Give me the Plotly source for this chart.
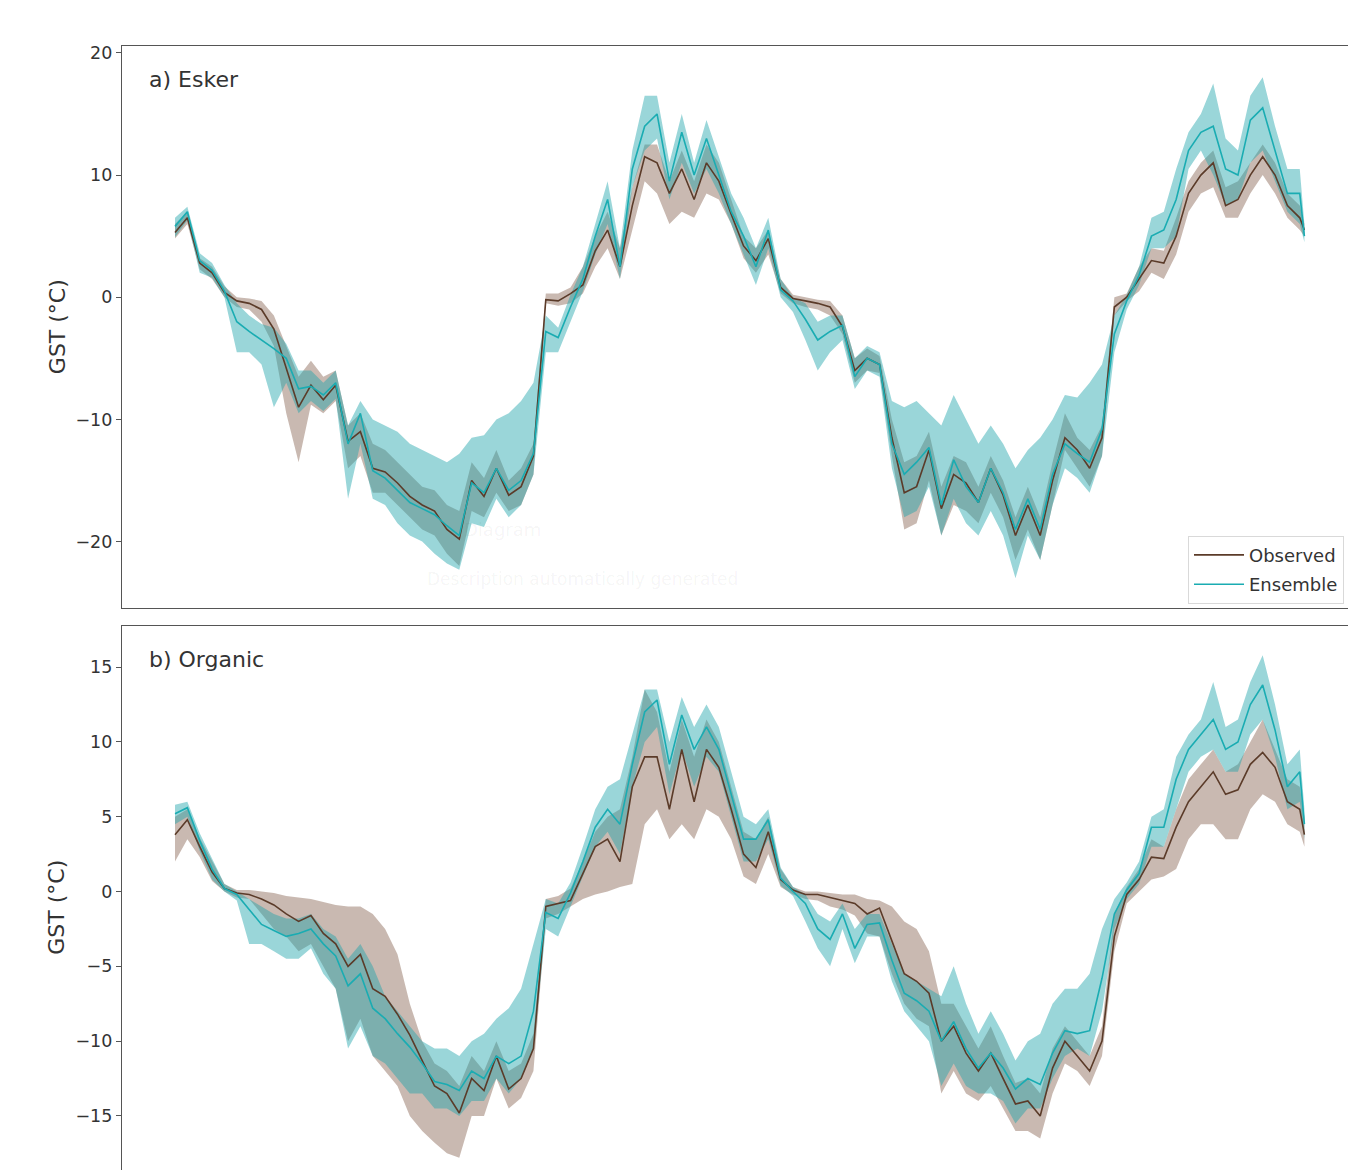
import plotly.graph_objects as go

# ---------------- data (day index, sampled every 8 days) ----------------
days = [0, 8, 16, 24, 32, 40, 48, 56, 64, 72, 80, 88, 96, 104, 112, 120, 128, 136,
        144, 152, 160, 168, 176, 184, 192, 200, 208, 216, 224, 232, 240, 248, 256,
        264, 272, 280, 288, 296, 304, 312, 320, 328, 336, 344, 352, 360, 368, 376,
        384, 392, 400, 408, 416, 424, 432, 440, 448, 456, 464, 472, 480, 488, 496,
        504, 512, 520, 528, 536, 544, 552, 560, 568, 576, 584, 592, 600, 608, 616,
        624, 632, 640, 648, 656, 664, 672, 680, 688, 696, 704, 712, 720, 728, 731]

# a) Esker
esker_obs = [5.3, 6.5, 2.8, 2.0, 0.4, -0.3, -0.5, -1.0, -2.6, -5.8, -9.0, -7.2, -8.4, -7.2,
             -11.8, -11.0, -14.0, -14.3, -15.2, -16.3, -17.0, -17.5, -19.0, -19.8, -15.0,
             -16.3, -14.0, -16.2, -15.5, -13.0, -0.2, -0.3, 0.3, 1.0, 3.8, 5.5, 2.5, 7.5,
             11.5, 11.0, 8.5, 10.5, 8.0, 11.0, 9.5, 6.8, 4.2, 3.0, 4.8, 0.8, -0.1, -0.3,
             -0.5, -0.8, -2.4, -6.0, -5.0, -5.5, -11.5, -16.0, -15.5, -12.5, -17.3, -14.5,
             -15.2, -16.8, -14.0, -16.2, -19.5, -17.0, -19.5, -15.0, -11.5, -12.5, -14.0,
             -11.5, -0.8, 0.0, 1.5, 3.0, 2.8, 5.0, 8.5, 10.0, 11.0, 7.5, 8.0, 10.0, 11.5,
             10.0, 7.5, 6.5, 5.5]
esker_obs_lo = [4.8, 6.0, 2.3, 1.5, 0.0, -0.8, -1.0, -2.0, -4.0, -9.5, -13.5, -8.8, -9.5, -8.5,
                -14.0, -13.0, -16.0, -16.0, -17.0, -18.0, -19.0, -19.5, -21.0, -22.0, -17.5,
                -18.0, -16.0, -17.5, -17.0, -14.5, -0.5, -0.7, -0.5, 0.3, 2.5, 4.0, 1.5, 5.5,
                9.5, 8.5, 6.0, 7.0, 6.5, 8.5, 8.0, 6.0, 3.2, 2.0, 3.5, 0.3, -0.5, -0.8,
                -1.0, -1.5, -3.0, -7.0, -6.0, -6.2, -13.0, -19.0, -18.5, -15.0, -19.5, -17.0,
                -17.5, -18.5, -16.0, -18.0, -21.5, -19.0, -21.5, -17.0, -12.5, -14.0, -15.5,
                -13.0, -1.5, -0.3, 0.5, 2.0, 1.5, 3.5, 7.0, 8.5, 9.0, 6.5, 6.5, 8.5, 10.0,
                8.5, 6.5, 5.5, 5.0]
esker_obs_hi = [6.0, 7.0, 3.2, 2.5, 0.9, 0.0, -0.1, -0.3, -1.5, -4.0, -6.5, -5.2, -6.5, -6.0,
                -10.5, -9.5, -12.0, -12.5, -13.5, -14.5, -15.5, -15.8, -17.0, -17.5, -13.5,
                -14.8, -12.5, -15.0, -14.0, -12.0, 0.3, 0.3, 0.8, 2.5, 5.0, 7.0, 4.0, 9.0,
                12.5, 12.5, 9.5, 12.0, 9.5, 12.5, 11.0, 8.0, 5.0, 4.0, 5.5, 1.5, 0.2, 0.0,
                -0.2, -0.3, -1.5, -5.0, -4.2, -4.8, -10.0, -13.5, -13.0, -11.0, -15.5, -13.0,
                -13.5, -15.5, -13.0, -15.0, -18.0, -15.5, -18.0, -13.5, -9.5, -11.5, -12.5,
                -10.5, 0.0, 0.3, 2.5, 4.0, 3.8, 6.5, 9.5, 11.0, 12.0, 9.0, 9.5, 11.0, 12.5,
                11.0, 8.5, 7.5, 6.0]
esker_ens = [5.8, 7.0, 3.0, 2.2, 0.5, -2.0, -2.8, -3.5, -4.2, -5.0, -7.5, -7.3, -8.0, -7.0,
             -12.0, -9.5, -14.2, -14.8, -15.8, -16.8, -17.3, -17.8, -18.7, -19.5, -15.2,
             -16.0, -14.0, -15.8, -15.0, -12.8, -2.8, -3.3, -0.8, 1.5, 5.0, 8.0, 2.5, 10.5,
             14.0, 15.0, 9.5, 13.5, 10.0, 13.0, 10.0, 7.0, 5.0, 2.5, 5.5, 0.6, -0.3, -1.8,
             -3.5, -2.8, -2.3, -6.5, -5.0, -5.5, -12.0, -14.5, -13.5, -12.3, -17.0, -13.3,
             -15.5, -16.8, -14.0, -16.0, -19.0, -16.5, -19.0, -14.5, -12.0, -12.8, -13.5,
             -10.8, -3.0, -0.3, 1.8, 5.0, 5.5, 8.0, 12.0, 13.5, 14.0, 10.5, 10.0, 14.5,
             15.5, 12.0, 8.5, 8.5, 5.0]
esker_ens_lo = [4.9, 6.3, 2.0, 1.6, 0.0, -4.5, -4.5, -5.5, -9.0, -7.0, -9.5, -8.5, -9.3, -8.3,
                -16.5, -12.0, -16.5, -17.0, -18.5, -19.5, -20.0, -21.0, -21.8, -22.3, -18.5,
                -18.8, -16.5, -18.0, -17.0, -14.5, -4.5, -4.5, -2.0, 0.5, 3.5, 6.0, 1.5, 9.0,
                12.0, 13.0, 8.0, 11.0, 8.5, 10.5, 8.5, 6.0, 3.5, 1.0, 4.0, 0.0, -1.2, -3.5,
                -6.0, -4.5, -3.5, -7.5, -6.0, -6.5, -14.0, -18.0, -17.5, -15.5, -19.5, -16.5,
                -18.5, -19.5, -17.5, -19.5, -23.0, -19.5, -21.5, -17.0, -14.0, -14.8, -16.0,
                -13.0, -4.5, -1.0, 1.0, 4.0, 4.0, 5.0, 10.5, 12.0, 10.0, 7.5, 8.0, 11.0,
                12.0, 9.5, 7.0, 6.0, 4.5]
esker_ens_hi = [6.5, 7.4, 3.6, 2.8, 1.0, -0.5, -1.5, -2.2, -2.5, -3.8, -6.0, -6.0, -7.0, -6.0,
                -10.5, -8.5, -10.0, -10.5, -11.0, -12.0, -12.5, -13.0, -13.5, -12.8, -11.5,
                -11.3, -10.0, -9.5, -8.5, -7.0, -1.5, -2.5, 0.2, 2.5, 6.0, 9.5, 4.0, 12.0,
                16.5, 16.5, 11.0, 15.0, 11.0, 14.5, 11.5, 8.5, 6.5, 4.0, 6.5, 1.5, 0.0, -0.5,
                -2.0, -1.5, -1.5, -5.0, -4.0, -4.5, -8.5, -9.0, -8.5, -9.5, -10.5, -8.0,
                -10.0, -12.0, -10.5, -12.0, -14.0, -12.5, -11.5, -10.0, -8.0, -8.2, -7.0,
                -5.5, -1.5, 0.2, 2.5, 6.5, 7.0, 10.5, 13.5, 15.0, 17.5, 13.0, 12.0, 16.5,
                18.0, 14.0, 10.5, 10.5, 6.0]

# b) Organic
organic_obs = [3.8, 4.8, 3.0, 1.3, 0.2, -0.1, -0.2, -0.5, -0.9, -1.5, -2.0, -1.6, -2.8, -3.5,
               -5.0, -4.2, -6.5, -7.0, -8.2, -9.6, -11.3, -13.0, -13.5, -14.8, -12.5, -13.3,
               -11.0, -13.2, -12.5, -10.5, -1.0, -0.8, -0.6, 1.2, 3.0, 3.5, 2.0, 7.0, 9.0,
               9.0, 5.5, 9.5, 6.0, 9.5, 8.3, 5.5, 2.5, 1.6, 4.0, 0.8, 0.1, -0.2, -0.2, -0.4,
               -0.6, -0.8, -1.5, -1.1, -3.3, -5.5, -6.0, -6.8, -10.0, -9.0, -10.8, -12.0,
               -10.8, -12.5, -14.2, -14.0, -15.0, -11.8, -10.0, -11.0, -12.0, -10.0, -3.0,
               -0.2, 0.8, 2.3, 2.2, 4.3, 6.0, 7.0, 8.0, 6.5, 6.8, 8.5, 9.3, 8.3, 6.0, 5.5, 3.8]
organic_obs_lo = [2.0, 3.5, 2.3, 0.7, 0.0, -0.4, -0.5, -1.5, -2.5, -3.0, -4.0, -3.5, -5.0, -6.5,
                  -10.0, -8.5, -11.0, -12.0, -13.0, -15.0, -16.0, -16.8, -17.5, -17.8, -15.0,
                  -15.0, -12.5, -14.5, -13.8, -12.0, -1.8, -1.5, -1.0, -0.5, -0.2, 0.0, 0.3,
                  0.5, 4.5, 5.5, 3.5, 4.5, 3.5, 5.5, 5.0, 3.5, 1.0, 0.5, 2.5, 0.3, -0.2, -0.5,
                  -0.6, -1.0, -1.2, -1.6, -2.8, -3.0, -5.5, -7.5, -8.5, -9.0, -13.5, -12.0,
                  -13.5, -14.0, -13.0, -14.5, -16.0, -16.0, -16.5, -13.5, -11.5, -12.0, -13.0,
                  -11.0, -4.0, -0.8, 0.0, 0.8, 1.0, 1.5, 3.5, 4.5, 4.5, 3.5, 3.5, 5.5, 6.5,
                  6.0, 4.5, 4.0, 3.0]
organic_obs_hi = [5.0, 5.5, 3.6, 2.0, 0.5, 0.1, 0.1, 0.0, -0.1, -0.3, -0.4, -0.5, -0.7, -0.9,
                  -1.0, -1.0, -1.5, -2.5, -4.2, -7.5, -10.0, -11.5, -12.0, -13.0, -11.0, -12.0,
                  -10.0, -12.0, -11.5, -9.5, -0.5, -0.3, 0.2, 2.0, 4.0, 5.0, 5.5, 9.0, 13.5,
                  12.0, 8.0, 11.5, 9.0, 11.5, 10.0, 7.0, 4.0, 3.5, 5.0, 1.5, 0.3, 0.0, 0.0,
                  -0.1, -0.2, -0.2, -0.5, -0.6, -1.0, -2.0, -2.5, -4.0, -7.5, -7.5, -9.0,
                  -10.5, -9.0, -11.0, -12.8, -12.5, -13.5, -10.5, -9.0, -10.0, -11.0, -9.0,
                  -1.5, 0.3, 1.5, 3.5, 3.0, 5.5, 7.5, 8.5, 9.5, 8.0, 8.5, 10.0, 11.5, 9.5,
                  7.5, 7.0, 5.0]
organic_ens = [5.2, 5.6, 3.4, 1.5, 0.2, -0.2, -1.2, -2.2, -2.6, -3.0, -2.8, -2.5, -3.5, -4.3,
               -6.3, -5.5, -7.8, -8.5, -9.5, -10.4, -11.5, -12.7, -12.9, -13.3, -12.0, -12.5,
               -11.0, -11.5, -11.0, -8.0, -1.4, -1.8, -0.1, 2.0, 4.3, 5.5, 4.5, 8.5, 12.0,
               12.8, 8.5, 11.8, 9.5, 11.0, 9.5, 6.5, 3.5, 3.5, 4.8, 0.9, 0.0, -0.8, -2.5,
               -3.2, -1.5, -3.8, -2.2, -2.1, -4.6, -6.8, -7.3, -8.0, -10.0, -8.7, -10.5,
               -11.8, -10.8, -11.8, -13.2, -12.5, -12.9, -10.8, -9.3, -9.5, -9.3, -5.8, -1.5,
               0.1, 1.2, 4.3, 4.3, 7.5, 9.5, 10.5, 11.5, 9.5, 10.0, 12.5, 13.8, 10.8, 7.0,
               8.0, 4.5]
organic_ens_lo = [4.5, 5.0, 2.7, 0.8, 0.0, -0.6, -3.5, -3.5, -4.0, -4.5, -4.5, -3.8, -5.5, -6.5,
                  -10.5, -9.0, -11.0, -11.5, -12.5, -13.5, -13.5, -14.5, -14.5, -15.0, -14.0,
                  -14.0, -12.5, -13.5, -12.5, -10.5, -2.5, -3.0, -1.0, 1.0, 3.0, 4.0, 2.5,
                  7.0, 10.0, 11.0, 6.5, 9.5, 7.0, 9.0, 8.0, 5.0, 2.0, 2.0, 3.5, 0.4, -0.3,
                  -2.0, -3.8, -5.0, -2.5, -4.8, -3.0, -3.0, -6.0, -8.0, -9.0, -10.0, -13.0,
                  -11.5, -13.0, -13.5, -13.5, -14.0, -15.5, -14.5, -14.5, -12.5, -11.0, -10.5,
                  -11.0, -8.0, -2.5, -0.5, 0.5, 3.0, 3.0, 5.5, 8.0, 9.0, 9.5, 8.0, 8.0, 10.5,
                  11.5, 9.0, 5.5, 6.0, 3.5]
organic_ens_hi = [5.8, 6.0, 3.9, 2.2, 0.5, 0.0, -0.5, -1.0, -1.5, -1.8, -1.8, -1.5, -2.5, -3.0,
                  -4.5, -3.5, -5.0, -7.0, -8.0, -9.0, -10.0, -10.5, -10.5, -11.0, -10.0, -9.5,
                  -8.5, -7.8, -6.5, -3.5, -0.5, -0.8, 0.6, 3.0, 5.5, 7.0, 7.5, 10.5, 13.5,
                  13.5, 10.0, 13.0, 11.0, 12.5, 11.0, 8.0, 5.0, 4.5, 5.5, 1.6, 0.3, -0.2, -1.5,
                  -2.0, -0.8, -2.5, -1.5, -1.5, -3.5, -5.5, -6.0, -6.5, -7.0, -5.0, -7.5, -9.5,
                  -8.0, -9.5, -11.3, -10.0, -9.5, -7.5, -6.5, -6.5, -5.5, -2.5, -0.5, 0.6, 2.0,
                  5.0, 5.5, 9.0, 10.5, 11.5, 14.0, 11.0, 11.5, 14.0, 15.8, 12.5, 8.5, 9.5, 5.5]

legend_names = ["Observed", "Ensemble"]
panel_titles = ["a) Esker", "b) Organic"]
esker_ticks = [-20, -10, 0, 10, 20]
organic_ticks = [-15, -10, -5, 0, 5, 10, 15]

# ---------------- styling ----------------
W, H = 1348, 1170
ML = 122
PW = W - ML
FONT = "DejaVu Sans"
TXT = "#333333"
AXC = "#555555"
OBS_LINE = "#5b3b29"
OBS_FILL = "rgba(120,80,60,0.40)"
ENS_LINE = "#1aacb2"
ENS_FILL = "rgba(30,165,170,0.45)"

fig = go.Figure()


def add_panel(xa, ya, obs, olo, ohi, ens, elo, ehi, show):
    common = dict(x=days, xaxis=xa, yaxis=ya, hoverinfo="skip")
    fig.add_trace(go.Scatter(y=olo, mode="lines", line=dict(width=0, color=OBS_FILL),
                             showlegend=False, **common))
    fig.add_trace(go.Scatter(y=ohi, mode="lines", line=dict(width=0, color=OBS_FILL),
                             fill="tonexty", fillcolor=OBS_FILL, showlegend=False, **common))
    fig.add_trace(go.Scatter(y=elo, mode="lines", line=dict(width=0, color=ENS_FILL),
                             showlegend=False, **common))
    fig.add_trace(go.Scatter(y=ehi, mode="lines", line=dict(width=0, color=ENS_FILL),
                             fill="tonexty", fillcolor=ENS_FILL, showlegend=False, **common))
    fig.add_trace(go.Scatter(y=obs, mode="lines", line=dict(width=1.6, color=OBS_LINE),
                             name=legend_names[0], legendgroup="obs", showlegend=show, **common))
    fig.add_trace(go.Scatter(y=ens, mode="lines", line=dict(width=1.6, color=ENS_LINE),
                             name=legend_names[1], legendgroup="ens", showlegend=show, **common))


add_panel("x", "y", esker_obs, esker_obs_lo, esker_obs_hi,
          esker_ens, esker_ens_lo, esker_ens_hi, True)
add_panel("x2", "y2", organic_obs, organic_obs_lo, organic_obs_hi,
          organic_ens, organic_ens_lo, organic_ens_hi, False)

px_per_day = 1.545
x0 = (ML - 175) / px_per_day
x1 = (W - 175) / px_per_day

xcommon = dict(range=[x0, x1], showgrid=False, zeroline=False, showticklabels=False,
               ticks="", showline=True, linecolor=AXC, linewidth=1.3, domain=[0, 1])
ycommon = dict(showgrid=False, zeroline=False, showline=True, linecolor=AXC, linewidth=1.3,
               ticks="outside", ticklen=5, tickwidth=1.2, tickcolor=AXC,
               tickfont=dict(family=FONT, size=17.5, color=TXT))


def minus(v):
    return str(v).replace("-", "\u2212")


fig.update_layout(
    width=W, height=H,
    margin=dict(l=ML, r=0, t=0, b=0),
    paper_bgcolor="white", plot_bgcolor="white",
    font=dict(family=FONT, color=TXT),
    xaxis=dict(anchor="y", mirror=True, **xcommon),
    xaxis2=dict(anchor="y2", side="top", mirror=False, **xcommon),
    yaxis=dict(domain=[1 - 607 / H, 1 - 43 / H], range=[(295 - 607) / 12.25, (295 - 43) / 12.25],
               tickvals=esker_ticks, ticktext=[minus(v) for v in esker_ticks], anchor="x",
               **ycommon),
    yaxis2=dict(domain=[0, 1 - 625 / H], range=[(890.8 - 1170) / 15.0, (890.8 - 625) / 15.0],
                tickvals=organic_ticks, ticktext=[minus(v) for v in organic_ticks], anchor="x2",
                **ycommon),
    legend=dict(x=(1188 - ML) / PW, y=1 - 534 / H, xanchor="left", yanchor="top",
                bgcolor="white", bordercolor="#d9d9d9", borderwidth=1,
                font=dict(family=FONT, size=18, color=TXT),
                itemwidth=50, traceorder="grouped", tracegroupgap=3),
    showlegend=True,
)

ann = []
# panel labels
ann.append(dict(text=panel_titles[0], x=(147 - ML) / PW, y=1 - 77 / H, xref="paper", yref="paper",
                xanchor="left", yanchor="middle", showarrow=False,
                font=dict(family=FONT, size=22, color=TXT)))
ann.append(dict(text=panel_titles[1], x=(147 - ML) / PW, y=1 - 658 / H, xref="paper", yref="paper",
                xanchor="left", yanchor="middle", showarrow=False,
                font=dict(family=FONT, size=22, color=TXT)))
# y titles
for yc in (325, 907):
    ann.append(dict(text="GST (°C)", x=(57 - ML) / PW, y=1 - yc / H, xref="paper", yref="paper",
                    xanchor="center", yanchor="middle", textangle=-90, showarrow=False,
                    font=dict(family=FONT, size=22, color=TXT)))
# faint leftover alt-text watermark
ann.append(dict(text="Diagram", x=(462 - ML) / PW, y=1 - 528 / H, xref="paper", yref="paper",
                xanchor="left", yanchor="middle", showarrow=False,
                font=dict(family=FONT, size=18, color="rgba(0,0,0,0.05)")))
ann.append(dict(text="Description automatically generated", x=(425 - ML) / PW, y=1 - 577 / H,
                xref="paper", yref="paper", xanchor="left", yanchor="middle", showarrow=False,
                font=dict(family=FONT, size=17, color="rgba(0,0,0,0.05)")))
fig.update_layout(annotations=ann)

fig.write_html(
    "out.html",
    config={"displayModeBar": False},
    post_script="document.body.style.margin='0px';"
                "document.body.style.overflow='hidden';"
                "document.documentElement.style.overflow='hidden';",
)
